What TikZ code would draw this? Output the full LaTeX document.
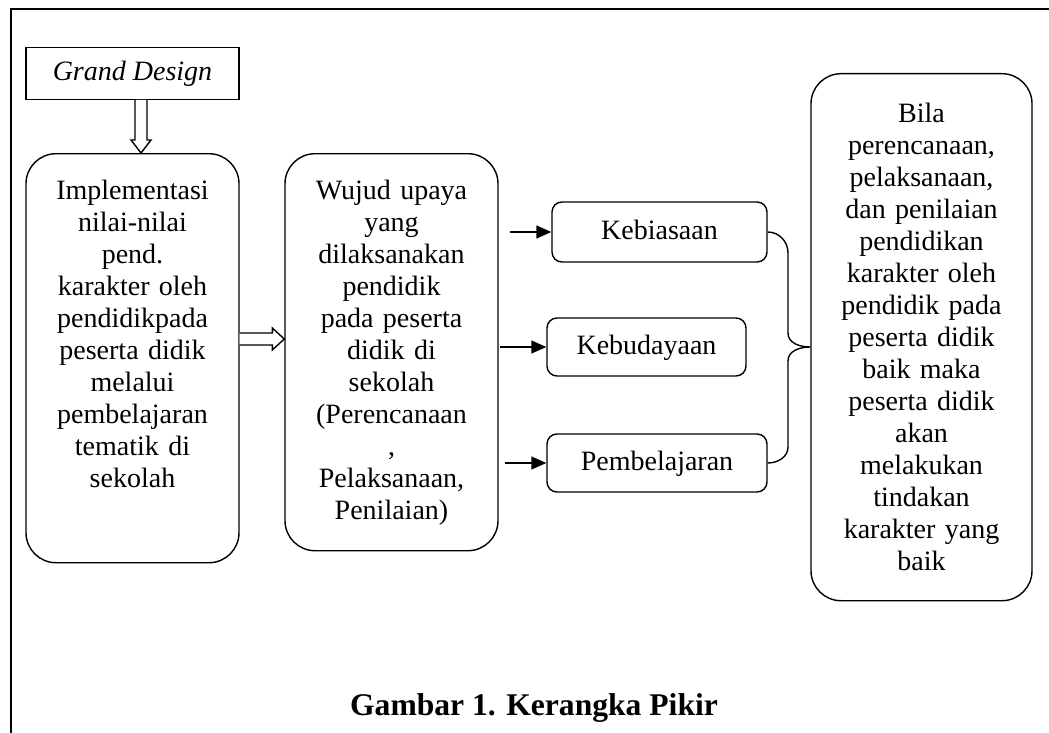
\documentclass[tikz,border=0pt]{standalone}
\usepackage{fontspec}
\setmainfont{Liberation Serif}
\usetikzlibrary{arrows.meta,positioning,calc}

\begin{document}
\begin{tikzpicture}[
    x=0.5pt, y=-0.5pt, line width=0.7pt,
    bigbox/.style={rectangle, rounded corners=15pt, draw=black, align=center, anchor=north,
                   inner xsep=4pt, inner ysep=13pt, text height=10pt,
                   font=\fontsize{14}{16}\selectfont},
    smallbox/.style={rectangle, rounded corners=5pt, draw=black, inner sep=2pt,
                     text height=10pt, text depth=3pt, font=\fontsize{14}{16}\selectfont},
    flow/.style={-{Triangle[length=7.5pt,width=6.5pt]}},
    hollow/.style={draw=black, fill=white, line join=miter}
]
\useasboundingbox (0,0) rectangle (1049,733);
\draw (1049,9) -- (11,9) -- (11,733);

\node[bigbox, text width=98.5pt, text depth=168.5pt] (impl) at (132.5,153)
    {Implementasi\\nilai-nilai\\pend.\\karakter oleh\\pendidikpada\\peserta didik\\melalui\\pembelajaran\\tematik di\\sekolah};
\node[rectangle, draw=black, minimum width=106.5pt, minimum height=26pt,
      font=\fontsize{14}{16}\itshape, above=26.5pt of impl] (gd) {Grand Design};
\node[bigbox, text width=98.5pt, text depth=162.5pt] (wujud) at (391.5,153)
    {Wujud upaya\\yang\\dilaksanakan\\pendidik\\pada peserta\\didik di\\sekolah\\(Perencanaan\\,\\Pelaksanaan,\\Penilaian)};
\node[bigbox, text width=102.5pt, text height=11.5pt, text depth=226pt] (hasil) at (921.5,73)
    {Bila\\perencanaan,\\pelaksanaan,\\dan penilaian\\pendidikan\\karakter oleh\\pendidik pada\\peserta didik\\baik maka\\peserta didik\\akan\\melakukan\\tindakan\\karakter yang\\baik};

\node[smallbox, minimum width=107.5pt, minimum height=30pt] (kebi) at (659.5,232) {Kebiasaan};
\node[smallbox, minimum width=99.5pt, minimum height=29pt] (kebu) at (646.5,347) {Kebudayaan};
\node[smallbox, minimum width=110pt, minimum height=29pt] (pemb) at (657,463) {Pembelajaran};
\node[font=\fontsize{15.8}{18}\bfseries, anchor=base] (cap) at (534,715) {Gambar 1. Kerangka Pikir};

% hollow arrows
\draw[hollow] ($(gd.south)+(2.5,0)$) -- ($(impl.north)+(2.5,-13)$) -- ($(impl.north)+(-1.5,-13)$)
    -- ($(impl.north)+(8.5,0)$) -- ($(impl.north)+(18.5,-13)$) -- ($(impl.north)+(14.5,-13)$)
    -- ($(gd.south)+(14.5,0)$);
\draw[hollow] (impl.east |- 0,333) -- ($(wujud.west |- 0,333)+(-12,0)$) -- ($(wujud.west |- 0,328)+(-12,0)$)
    -- (wujud.west |- 0,339) -- ($(wujud.west |- 0,350)+(-12,0)$) -- ($(wujud.west |- 0,345)+(-12,0)$)
    -- (impl.east |- 0,345);

\coordinate (a1) at (510,232);
\coordinate (a2) at (500,347);
\coordinate (a3) at (505,463);
\draw[flow] (a1) -- (kebi); \draw[flow] (a2) -- (kebu); \draw[flow] (a3) -- (pemb);

% brace
\draw (kebi.east) to[out=0,in=90] (788,253) -- (788,333) to[out=-90,in=180] (hasil.west |- kebu.center)
    to[out=180,in=90] (788,361) -- (788,447) to[out=-90,in=0] (pemb.east);
\end{tikzpicture}
\end{document}
